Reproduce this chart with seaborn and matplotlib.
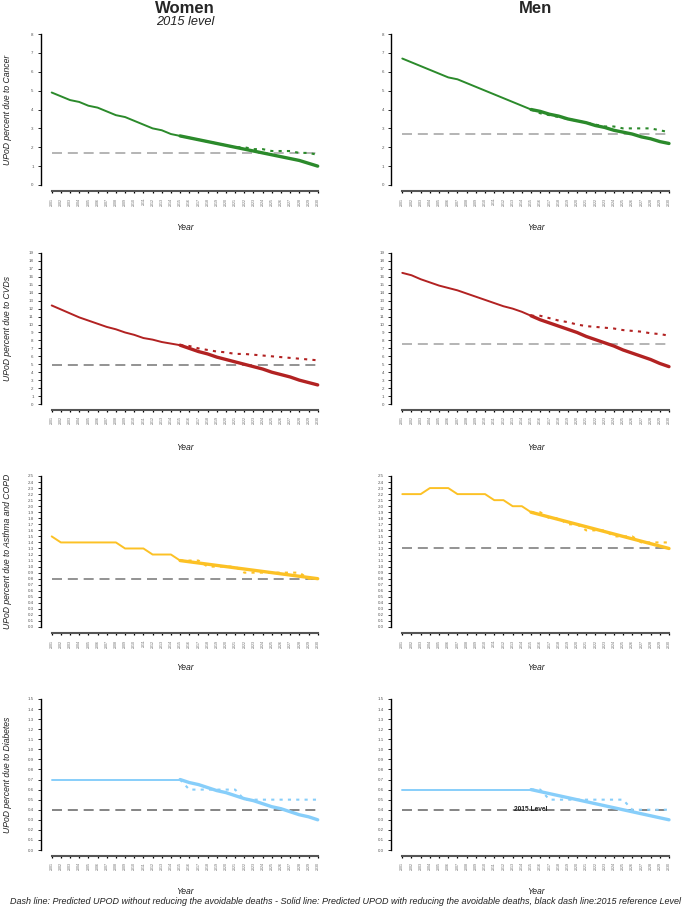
import matplotlib
matplotlib.use("Agg")
import matplotlib.pyplot as plt
import seaborn as sns
import numpy as np

# ---------------- data ----------------
years = list(range(2001, 2031))
proj_years = list(range(2015, 2031))

women_cancer_solid = [4.9, 4.7, 4.5, 4.4, 4.2, 4.1, 3.9, 3.7, 3.6, 3.4, 3.2, 3.0, 2.9, 2.7, 2.6,
                      2.5, 2.4, 2.3, 2.2, 2.1, 2.0, 1.9, 1.8, 1.7, 1.6, 1.5, 1.4, 1.3, 1.15, 1.0]
women_cancer_dotted = [2.6, 2.5, 2.4, 2.3, 2.2, 2.1, 2.0, 2.0, 1.9, 1.9, 1.8, 1.8, 1.8, 1.7, 1.7, 1.6]
women_cancer_ref = 1.7

men_cancer_solid = [6.7, 6.5, 6.3, 6.1, 5.9, 5.7, 5.6, 5.4, 5.2, 5.0, 4.8, 4.6, 4.4, 4.2, 4.0,
                    3.9, 3.75, 3.65, 3.5, 3.4, 3.3, 3.15, 3.05, 2.9, 2.8, 2.7, 2.55, 2.45, 2.3, 2.2]
men_cancer_dotted = [4.0, 3.8, 3.7, 3.6, 3.5, 3.4, 3.3, 3.2, 3.1, 3.1, 3.0, 3.0, 3.0, 3.0, 2.9, 2.8]
men_cancer_ref = 2.7

women_cvd_solid = [12.4, 11.9, 11.4, 10.9, 10.5, 10.1, 9.7, 9.4, 9.0, 8.7, 8.3, 8.1, 7.8, 7.6, 7.4,
                   7.0, 6.6, 6.3, 5.9, 5.6, 5.3, 5.0, 4.7, 4.4, 4.0, 3.7, 3.4, 3.0, 2.7, 2.4]
women_cvd_dotted = [7.4, 7.3, 7.0, 6.8, 6.6, 6.5, 6.3, 6.3, 6.2, 6.1, 6.0, 5.9, 5.8, 5.7, 5.6, 5.5]
women_cvd_ref = 4.9

men_cvd_solid = [16.5, 16.2, 15.7, 15.3, 14.9, 14.6, 14.3, 13.9, 13.5, 13.1, 12.7, 12.3, 12.0, 11.6, 11.1,
                 10.6, 10.2, 9.8, 9.4, 9.0, 8.5, 8.1, 7.7, 7.3, 6.8, 6.4, 6.0, 5.6, 5.1, 4.7]
men_cvd_dotted = [11.1, 11.1, 10.8, 10.5, 10.3, 10.0, 9.8, 9.7, 9.6, 9.5, 9.3, 9.2, 9.1, 8.9, 8.8, 8.6]
men_cvd_ref = 7.5

women_asthma_solid = [1.5, 1.4, 1.4, 1.4, 1.4, 1.4, 1.4, 1.4, 1.3, 1.3, 1.3, 1.2, 1.2, 1.2, 1.1,
                      1.08, 1.06, 1.04, 1.02, 1.0, 0.98, 0.96, 0.94, 0.92, 0.9, 0.88, 0.86, 0.84, 0.82, 0.8]
women_asthma_dotted = [1.1, 1.1, 1.1, 1.0, 1.0, 1.0, 1.0, 0.9, 0.9, 0.9, 0.9, 0.9, 0.9, 0.9, 0.8, 0.8]
women_asthma_ref = 0.8

men_asthma_solid = [2.2, 2.2, 2.2, 2.3, 2.3, 2.3, 2.2, 2.2, 2.2, 2.2, 2.1, 2.1, 2.0, 2.0, 1.9,
                    1.86, 1.82, 1.78, 1.74, 1.7, 1.66, 1.62, 1.58, 1.54, 1.5, 1.46, 1.42, 1.38, 1.34, 1.3]
men_asthma_dotted = [1.9, 1.9, 1.8, 1.8, 1.7, 1.7, 1.6, 1.6, 1.6, 1.5, 1.5, 1.5, 1.4, 1.4, 1.4, 1.4]
men_asthma_ref = 1.3

women_diab_solid = [0.7, 0.7, 0.7, 0.7, 0.7, 0.7, 0.7, 0.7, 0.7, 0.7, 0.7, 0.7, 0.7, 0.7, 0.7,
                    0.67, 0.65, 0.62, 0.59, 0.57, 0.54, 0.51, 0.49, 0.46, 0.43, 0.41, 0.38, 0.35, 0.33, 0.3]
women_diab_dotted = [0.7, 0.6, 0.6, 0.6, 0.6, 0.6, 0.6, 0.5, 0.5, 0.5, 0.5, 0.5, 0.5, 0.5, 0.5, 0.5]
women_diab_ref = 0.4

men_diab_solid = [0.6, 0.6, 0.6, 0.6, 0.6, 0.6, 0.6, 0.6, 0.6, 0.6, 0.6, 0.6, 0.6, 0.6, 0.6,
                  0.58, 0.56, 0.54, 0.52, 0.5, 0.48, 0.46, 0.44, 0.42, 0.4, 0.38, 0.36, 0.34, 0.32, 0.3]
men_diab_dotted = [0.6, 0.6, 0.5, 0.5, 0.5, 0.5, 0.5, 0.5, 0.5, 0.5, 0.5, 0.4, 0.4, 0.4, 0.4, 0.4]
men_diab_ref = 0.4

row_labels = ["UPoD percent due to Cancer", "UPoD percent due to CVDs",
              "UPoD percent due to Asthma and COPD", "UPoD percent due to Diabetes"]
row_colors = ["#2b8a2b", "#b22222", "#fcc125", "#87cefa"]
ref_colors = [["#a8a8a8", "#a8a8a8"], ["#808080", "#a8a8a8"],
              ["#808080", "#808080"], ["#707070", "#707070"]]
row_ymax = [8, 19, 2.5, 1.5]
row_ystep = [1, 1, 0.1, 0.1]
row_fmt = ["{:.0f}", "{:.0f}", "{:.1f}", "{:.1f}"]

panels = [
    [(women_cancer_solid, women_cancer_dotted, women_cancer_ref),
     (men_cancer_solid, men_cancer_dotted, men_cancer_ref)],
    [(women_cvd_solid, women_cvd_dotted, women_cvd_ref),
     (men_cvd_solid, men_cvd_dotted, men_cvd_ref)],
    [(women_asthma_solid, women_asthma_dotted, women_asthma_ref),
     (men_asthma_solid, men_asthma_dotted, men_asthma_ref)],
    [(women_diab_solid, women_diab_dotted, women_diab_ref),
     (men_diab_solid, men_diab_dotted, men_diab_ref)],
]

# ---------------- style ----------------
sns.set_theme(style="ticks")
plt.rcParams["font.family"] = ["Liberation Sans", "DejaVu Sans"]

W, H = 685, 908
fig = plt.figure(figsize=(W / 100, H / 100), dpi=100)

col_left_px = [51.7, 402.3]
col_right_px = [317.7, 669.0]
row_top_px = [34, 253, 476, 699]
row_bot_px = [185, 404, 627, 850]
year_label_y = [227, 447, 668, 891]

for r in range(4):
    for c in range(2):
        l, rr = col_left_px[c], col_right_px[c]
        t, b = row_top_px[r], row_bot_px[r]
        ax = fig.add_axes([l / W, 1 - b / H, (rr - l) / W, (b - t) / H])
        solid, dotted, ref = panels[r][c]
        color = row_colors[r]
        ax.axhline(ref, color=ref_colors[r][c], lw=1.2, ls=(0, (6, 3.5)), zorder=1)
        sns.lineplot(x=years[:15], y=solid[:15], ax=ax, color=color, linewidth=1.4, zorder=2)
        sns.lineplot(x=years[14:], y=solid[14:], ax=ax, color=color, linewidth=2.4, zorder=2)
        sns.lineplot(x=proj_years, y=dotted, ax=ax, color=color, linewidth=1.5,
                     linestyle=(0, (1.5, 2.5)), zorder=3)
        ax.set_xlim(2001, 2030)
        ax.set_ylim(0, row_ymax[r])
        yt = np.round(np.arange(0, row_ymax[r] + 1e-9, row_ystep[r]), 2)
        ax.set_xticks(years)
        ax.set_yticks(yt)
        ax.patch.set_alpha(0)
        sns.despine(ax=ax, offset={"left": 8, "bottom": 4.5}, trim=True)
        ax.set_xticks(years)
        ax.set_xticklabels([str(y) for y in years])
        ax.set_yticks(yt)
        ax.set_yticklabels([row_fmt[r].format(v) for v in yt])
        ax.set_xlabel("")
        ax.set_ylabel("")
        ax.tick_params(axis="y", length=2, width=0.6, pad=3, labelsize=3.2,
                       labelcolor="#555555", color="black")
        ax.tick_params(axis="x", length=1.5, width=0.9, pad=3, labelsize=2.6,
                       labelcolor="#666666", color="black", labelrotation=90)
        ax.spines["left"].set_color("black")
        ax.spines["left"].set_linewidth(1.0)
        ax.spines["bottom"].set_color("#555555")
        ax.spines["bottom"].set_linewidth(1.5)
        for line in ax.lines:
            line.set_clip_on(False)
        fig.text((l + rr) / 2 / W, 1 - year_label_y[r] / H, "Year", ha="center", va="center",
                 fontsize=6.2, style="italic", color="#222222")
        if r == 3 and c == 1:
            ax.text(2015, men_diab_ref, "2015 Level", ha="center", va="center",
                    fontsize=4.8, fontweight="bold", color="#222222", zorder=4)
    fig.text(8 / W, 1 - (row_top_px[r] + row_bot_px[r]) / 2 / H, row_labels[r],
             rotation=90, ha="center", va="center", fontsize=6.2, style="italic", color="#222222")

fig.text(185 / W, 1 - 8.5 / H, "Women", ha="center", va="center", fontsize=12, fontweight="bold")
fig.text(185 / W, 1 - 22 / H, "2015 level", ha="center", va="center", fontsize=9.2,
         style="italic", color="#222222")
fig.text(535 / W, 1 - 8.5 / H, "Men", ha="center", va="center", fontsize=12, fontweight="bold")
fig.text(345 / W, 1 - 901 / H,
         "Dash line: Predicted UPOD without reducing the avoidable deaths - Solid line: Predicted UPOD "
         "with reducing the avoidable deaths, black dash line:2015 reference Level",
         ha="center", va="center", fontsize=6.5, style="italic", color="#222222")

fig.savefig("out.png", dpi=100)
